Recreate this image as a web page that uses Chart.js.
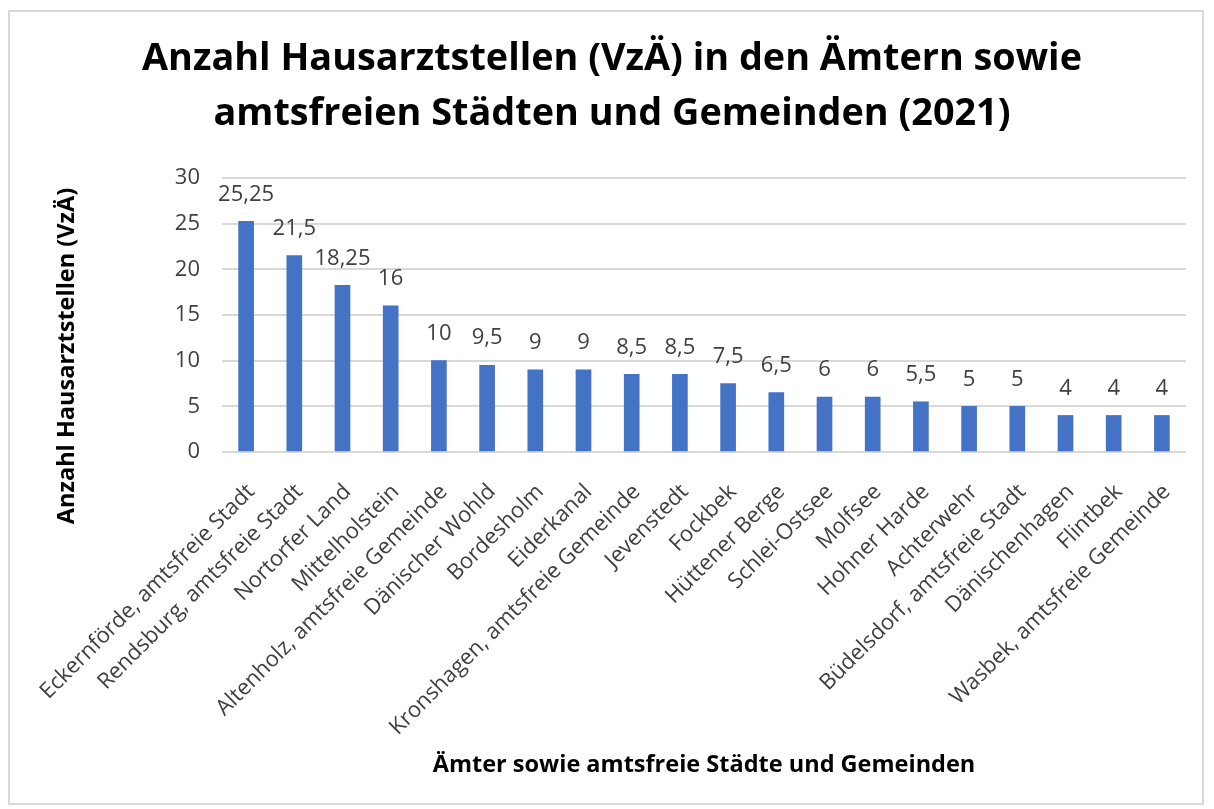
<!DOCTYPE html>
<html>
<head>
<meta charset="utf-8">
<script src="https://cdn.jsdelivr.net/npm/chart.js@4"></script>
<style>
  html, body { margin: 0; padding: 0; background: #fff; }
  #frame {
    position: absolute; left: 8px; top: 10px;
    width: 1196px; height: 795px;
    box-sizing: border-box; border: 2px solid #d9d9d9;
  }
  #chart { display: block; }
</style>
</head>
<body>
<div id="frame"><canvas id="chart" width="1192" height="791"></canvas></div>
<script>
// --- data ---
const categories = [
    'Eckernförde, amtsfreie Stadt',
    'Rendsburg, amtsfreie Stadt',
    'Nortorfer Land',
    'Mittelholstein',
    'Altenholz, amtsfreie Gemeinde',
    'Dänischer Wohld',
    'Bordesholm',
    'Eiderkanal',
    'Kronshagen, amtsfreie Gemeinde',
    'Jevenstedt',
    'Fockbek',
    'Hüttener Berge',
    'Schlei-Ostsee',
    'Molfsee',
    'Hohner Harde',
    'Achterwehr',
    'Büdelsdorf, amtsfreie Stadt',
    'Dänischenhagen',
    'Flintbek',
    'Wasbek, amtsfreie Gemeinde'
];
const values = [25.25, 21.5, 18.25, 16, 10, 9.5, 9, 9, 8.5, 8.5, 7.5, 6.5, 6, 6, 5.5, 5, 5, 4, 4, 4];
const yTicks = [0, 5, 10, 15, 20, 25, 30];
const titleLines = ['Anzahl Hausarztstellen (VzÄ) in den Ämtern sowie', 'amtsfreien Städten und Gemeinden (2021)'];
const yTitle = 'Anzahl Hausarztstellen (VzÄ)';
const xTitle = 'Ämter sowie amtsfreie Städte und Gemeinden';

const FONT = "'Open Sans', 'Noto Sans', sans-serif";
const TEXT = '#404040';

// German decimal comma
const fmt = v => String(v).replace('.', ',');

// draws the value above each bar
const valueLabels = {
    id: 'valueLabels',
    afterDatasetsDraw(chart) {
        const ctx = chart.ctx;
        const meta = chart.getDatasetMeta(0);
        ctx.save();
        ctx.font = `22px ${FONT}`;
        ctx.fillStyle = TEXT;
        ctx.textAlign = 'center';
        ctx.textBaseline = 'middle';
        meta.data.forEach((bar, i) => {
            ctx.fillText(fmt(values[i]), bar.x, bar.y - 27);
        });
        ctx.restore();
    }
};

// y axis title sits lower than the plot centre, like the original
const yAxisTitle = {
    id: 'yAxisTitle',
    afterDraw(chart) {
        const ctx = chart.ctx;
        ctx.save();
        ctx.font = `bold 23.5px ${FONT}`;
        ctx.fillStyle = '#000';
        ctx.textAlign = 'center';
        ctx.textBaseline = 'middle';
        ctx.translate(57, 344);
        ctx.rotate(-Math.PI / 2);
        ctx.fillText(yTitle, 0, 0);
        ctx.restore();
    }
};

new Chart(document.getElementById('chart'), {
    type: 'bar',
    data: {
        labels: categories,
        datasets: [{
            data: values,
            backgroundColor: '#4472C4',
            barThickness: 15
        }]
    },
    plugins: [valueLabels, yAxisTitle],
    options: {
        responsive: false,
        animation: false,
        layout: { padding: { left: 28, right: 16, top: 0, bottom: 0 } },
        plugins: {
            legend: { display: false },
            tooltip: { enabled: false },
            title: {
                display: true,
                text: titleLines,
                color: '#000',
                font: { family: FONT, size: 37.8, weight: 'bold', lineHeight: 1.455 },
                padding: { top: 20, bottom: 36 }
            }
        },
        scales: {
            x: {
                grid: { display: false },
                border: { display: false },
                ticks: {
                    color: TEXT,
                    font: { family: FONT, size: 22 },
                    minRotation: 45,
                    maxRotation: 45,
                    autoSkip: false,
                    padding: 19,
                    labelOffset: 5
                },
                title: {
                    display: true,
                    text: xTitle,
                    color: '#000',
                    font: { family: FONT, size: 23.5, weight: 'bold' },
                    padding: { top: 0, bottom: 24 }
                },
                afterFit(scale) { scale.height = 351; }
            },
            y: {
                min: 0,
                max: 30,
                afterBuildTicks(scale) { scale.ticks = yTicks.map(v => ({ value: v })); },
                grid: { color: '#d9d9d9', lineWidth: 2, drawTicks: false },
                border: { display: false },
                ticks: {
                    color: TEXT,
                    font: { family: FONT, size: 22 },
                    padding: 22
                },
                afterFit(scale) { scale.width = 184; }
            }
        }
    }
});
</script>
</body>
</html>
